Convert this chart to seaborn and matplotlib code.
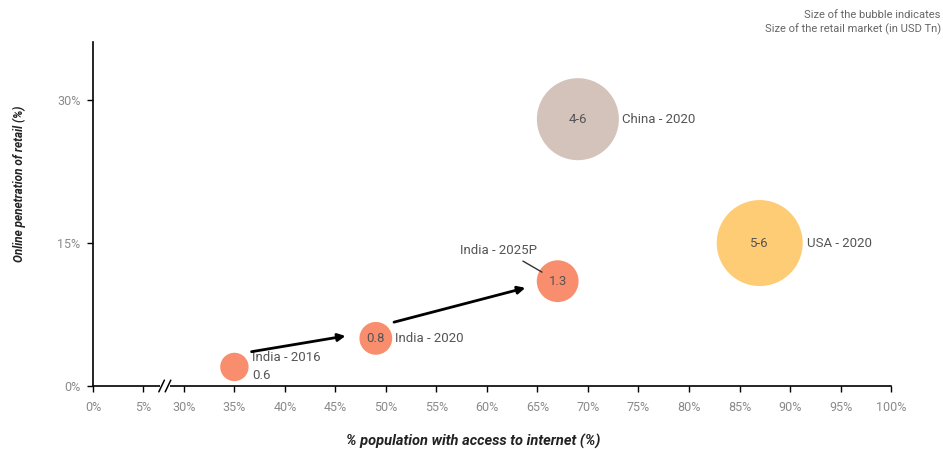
import numpy as np
import pandas as pd
import matplotlib
matplotlib.use("Agg")
import matplotlib.pyplot as plt
import seaborn as sns

# data
labels = ["India - 2016", "India - 2020", "India - 2025P", "China - 2020", "USA - 2020"]
internet_pct = [35, 49, 67, 69, 87]
online_pct = [2, 5, 11, 28, 15]
market_size = [0.6, 0.8, 1.3, 5.0, 5.5]
size_text = ["0.6", "0.8", "1.3", "4-6", "5-6"]
group = ["India", "India", "India", "China", "USA"]

x_ticks = [0, 5, 30, 35, 40, 45, 50, 55, 60, 65, 70, 75, 80, 85, 90, 95, 100]
y_ticks = [0, 15, 30]

df = pd.DataFrame({"label": labels, "x": internet_pct, "y": online_pct,
                   "size": market_size, "text": size_text, "group": group})

palette = {"India": "#F88E6E", "China": "#D4C3BB", "USA": "#FECC74"}


# broken x axis: 5% .. 30% squeezed
def fwd(v):
    v = np.asarray(v, dtype=float)
    return np.where(v <= 5, v, np.where(v >= 30, v - 21, 5 + (v - 5) * 0.16))


def inv(u):
    u = np.asarray(u, dtype=float)
    return np.where(u <= 5, u, np.where(u >= 9, u + 21, 5 + (u - 5) / 0.16))


sns.set_style("white")
plt.rcParams["font.family"] = ["Roboto", "DejaVu Sans"]

fig = plt.figure(figsize=(9.43, 4.49), dpi=100)
ax = fig.add_axes([0.0986, 0.1403, 0.8463, 0.7662])
ax.set_xscale("function", functions=(fwd, inv))

sns.scatterplot(data=df, x="x", y="y", size="size", sizes=(418, 3834),
                size_norm=(0.6, 5.5), hue="group", palette=palette,
                linewidth=0, alpha=1, legend=False, ax=ax, zorder=3)

ax.set_xlim(0, 100)
ax.set_ylim(0, 36.1)
ax.set_xticks(x_ticks)
ax.set_xticklabels([f"{t}%" for t in x_ticks])
ax.set_yticks(y_ticks)
ax.set_yticklabels([f"{t}%" for t in y_ticks])
ax.xaxis.set_minor_locator(matplotlib.ticker.NullLocator())
ax.tick_params(axis="both", direction="out", length=4, width=1, color="black",
               labelsize=9, labelcolor="#8a8a8a", bottom=True, left=True, pad=5)
ax.tick_params(axis="x", pad=7)
for s in ["top", "right"]:
    ax.spines[s].set_visible(False)
for s in ["left", "bottom"]:
    ax.spines[s].set_color("black")
    ax.spines[s].set_linewidth(1.2)

title_font = dict(family=["Roboto", "DejaVu Sans"], fontweight="bold",
                  fontstyle="italic", color="#222222")
ax.set_xlabel("% population with access to internet (%)", fontsize=10.5, **title_font)
ax.xaxis.set_label_coords(0.477, -0.138)
ax.set_ylabel("Online penetration of retail (%)", fontsize=8.5, **title_font)
ax.yaxis.set_label_coords(-0.084, 0.587)

txt = dict(fontsize=9.5, color="#555555")

# value inside bubbles (India 2016 value sits below its label instead)
for _, r in df.iterrows():
    if r["label"] == "India - 2016":
        continue
    ax.annotate(r["text"], (r["x"], r["y"]), ha="center", va="center",
                zorder=4, **txt)

# side labels
offsets = {"India - 2020": (14, 0), "China - 2020": (32, 0), "USA - 2020": (34, 0)}
for _, r in df.iterrows():
    if r["label"] in offsets:
        ax.annotate(r["label"], (r["x"], r["y"]), xytext=offsets[r["label"]],
                    textcoords="offset points", ha="left", va="center", **txt)

r16 = df.iloc[0]
ax.annotate(r16["label"], (r16["x"], r16["y"]), xytext=(13, 7),
            textcoords="offset points", ha="left", va="center", **txt)
ax.annotate(r16["text"], (r16["x"], r16["y"]), xytext=(13, -6),
            textcoords="offset points", ha="left", va="center", **txt)

r25 = df.iloc[2]
ax.annotate(r25["label"], (r25["x"], r25["y"]), xytext=(-15, 22),
            textcoords="offset points", ha="right", va="center",
            arrowprops=dict(arrowstyle="-", color="#333333", lw=1,
                            relpos=(0.73, 0), shrinkA=1, shrinkB=13), **txt)

# growth arrows
arrow = dict(arrowstyle="-|>", color="black", lw=2, mutation_scale=11,
             shrinkA=0, shrinkB=0)
ax.annotate("", xy=(46.0, 5.25), xytext=(36.7, 3.6), arrowprops=arrow, zorder=5)
ax.annotate("", xy=(63.8, 10.3), xytext=(50.8, 6.7), arrowprops=arrow, zorder=5)

# axis break marker
bx = 0.090
ax.plot([bx - 0.006, bx + 0.006], [0, 0], transform=ax.transAxes, color="white",
        lw=3, clip_on=False, zorder=6, solid_capstyle="butt")
for dx in (-0.004, 0.004):
    ax.plot([bx + dx - 0.0035, bx + dx + 0.0035], [-0.017, 0.017],
            transform=ax.transAxes, color="black", lw=1.1, clip_on=False, zorder=7)

fig.text(0.9975, 0.95, "Size of the bubble indicates\nSize of the retail market (in USD Tn)",
         ha="right", va="center", fontsize=8, color="#666666", linespacing=1.3)

fig.savefig("out.png", dpi=100)
